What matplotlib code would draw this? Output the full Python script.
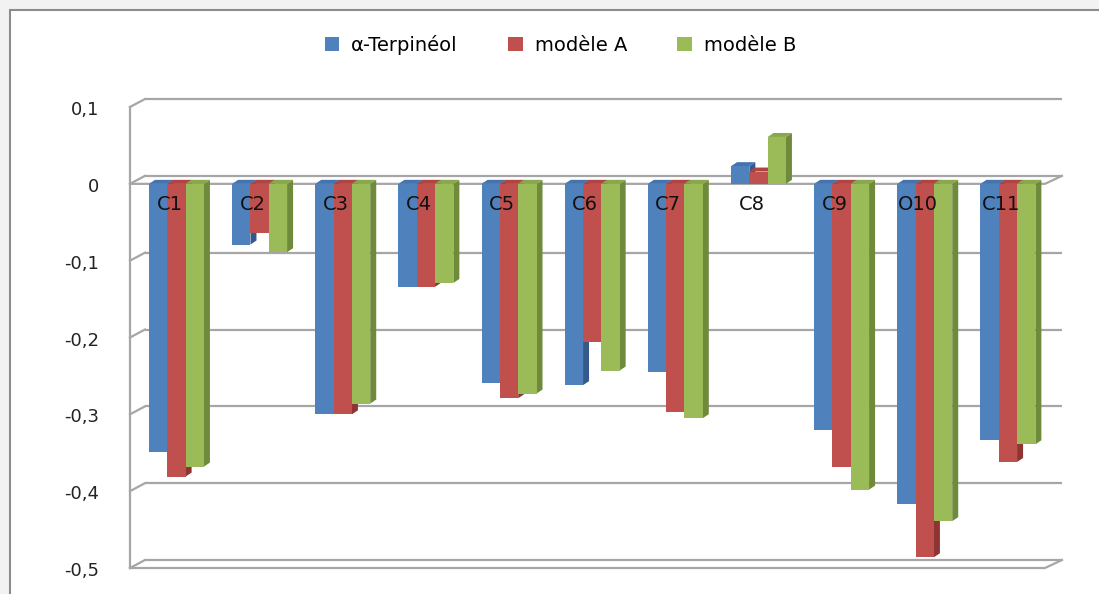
import matplotlib
matplotlib.use('Agg')
import matplotlib.pyplot as plt
from matplotlib.patches import Polygon, Rectangle, Patch

# Data (charges per atom)
categories = ['C1', 'C2', 'C3', 'C4', 'C5', 'C6', 'C7', 'C8', 'C9', 'O10', 'C11']
terpineol = [-0.349, -0.079, -0.300, -0.134, -0.259, -0.262, -0.245, 0.023, -0.320, -0.417, -0.333]
modele_a = [-0.381, -0.064, -0.300, -0.134, -0.279, -0.206, -0.297, 0.016, -0.368, -0.486, -0.362]
modele_b = [-0.368, -0.089, -0.286, -0.129, -0.273, -0.243, -0.305, 0.061, -0.398, -0.439, -0.339]
series_names = ['α-Terpinéol', 'modèle A', 'modèle B']
yticks = [0.1, 0, -0.1, -0.2, -0.3, -0.4, -0.5]

front_colors = ['#4F81BD', '#C0504D', '#9BBB59']
side_colors = ['#36598A', '#8E3432', '#6E8A3A']
top_colors = ['#4573AD', '#AE4542', '#88A84C']
grid_col = '#A6A6A6'

W, H = 1099, 594
fig = plt.figure(figsize=(W / 100, H / 100), dpi=100)
fig.patch.set_facecolor('#F2F2F2')
fig.add_artist(Rectangle((10 / W, -0.01), 1.02, (H - 10) / H + 0.01, transform=fig.transFigure,
                         facecolor='white', edgecolor='#8C8C8C', linewidth=1.5, zorder=0))

# plot area (front plane) in pixels: x 130..1047, y 107..568
ax = fig.add_axes([130 / W, (H - 568) / H, 917 / W, 461 / H])
ax.set_xlim(-0.559, 10.47)
ax.set_ylim(-0.5, 0.1)
ax.axis('off')
ax.patch.set_alpha(0)

# pixel -> data conversions
px_x = (10.47 + 0.559) / 917
px_y = 0.6 / 461
xmin, xmax = ax.get_xlim()

# depth of the walls and the bars
wdx, wdy = 15 * px_x, 8 * px_y
bdx, bdy = 6 * px_x, 4 * px_y

# back wall gridlines + left wall diagonals
for v in yticks:
    ax.plot([xmin + wdx, xmax + wdx], [v + wdy, v + wdy], color=grid_col, lw=1.6,
            zorder=1, clip_on=False, solid_capstyle='butt')
    ax.plot([xmin, xmin + wdx], [v, v + wdy], color=grid_col, lw=1.6, zorder=1, clip_on=False)
    ax.text(xmin - 31 * px_x, v - 3 * px_y, f'{v:g}'.replace('.', ','), ha='right', va='center',
            fontsize=13, color='#222222')
ax.plot([xmin, xmin], [-0.5, 0.1], color=grid_col, lw=1.6, zorder=1, clip_on=False)

# floor plates at 0 and -0.5
for v in [0, -0.5]:
    ax.plot([xmin, xmax - 2 * px_x, xmax + wdx], [v, v, v + wdy], color=grid_col, lw=1.6,
            zorder=2, clip_on=False)

# 3D-looking bars
bw = 18.3 * px_x
for s, vals in enumerate([terpineol, modele_a, modele_b]):
    for i, v in enumerate(vals):
        xl = i - 1.5 * bw + s * bw
        xr = xl + bw
        top = max(v, 0)
        bot = min(v, 0)
        side = Polygon([(xr, bot), (xr + bdx, bot + bdy), (xr + bdx, top + bdy), (xr, top)],
                       closed=True, facecolor=side_colors[s], edgecolor='none', zorder=3)
        cap = Polygon([(xl, top), (xr, top), (xr + bdx, top + bdy), (xl + bdx, top + bdy)],
                      closed=True, facecolor=top_colors[s], edgecolor='none', zorder=3)
        ax.add_patch(side)
        ax.add_patch(cap)
        ax.bar(xl, v, width=bw, align='edge', color=front_colors[s], edgecolor='none', zorder=3)

# category labels inside the plot
for i, c in enumerate(categories):
    ax.text(i - 7 * px_x, -11 * px_y, c, ha='center', va='top', fontsize=14, color='#111111', zorder=6)

handles = [Patch(facecolor=c, edgecolor='none') for c in front_colors]
fig.legend(handles, series_names, loc='center', bbox_to_anchor=(0.51, 0.924), ncol=3,
           frameon=False, fontsize=14, handlelength=0.75, handleheight=0.75, handletextpad=0.6,
           columnspacing=2.6)

fig.savefig('out.png', dpi=100, facecolor=fig.get_facecolor())
